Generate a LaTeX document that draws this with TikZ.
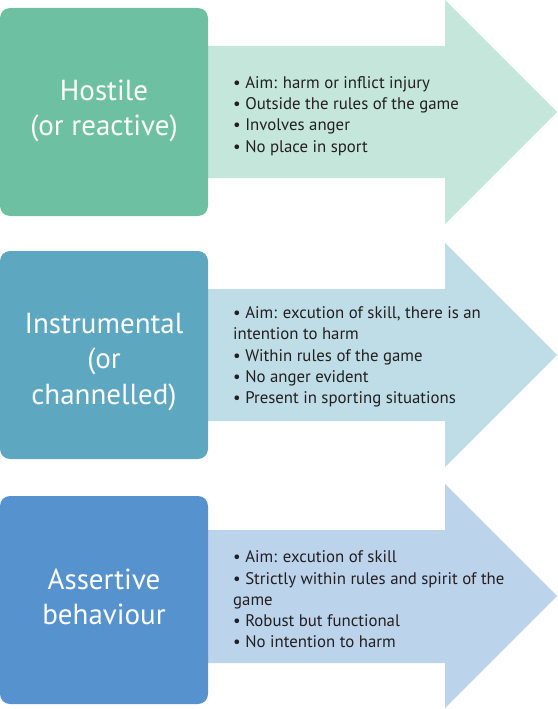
\documentclass[tikz,border=0pt]{standalone}
\usepackage{fontspec}
\setmainfont{PT Sans}
\definecolor{boxA}{HTML}{6DC0A2}
\definecolor{arrA}{HTML}{C5E6DA}
\definecolor{boxB}{HTML}{5EA7C1}
\definecolor{arrB}{HTML}{BEDDE6}
\definecolor{boxC}{HTML}{5592CE}
\definecolor{arrC}{HTML}{BCD3EC}
\definecolor{txt}{HTML}{231F20}
\tikzset{
  catbox/.style={rounded corners=10pt, minimum width=208pt, minimum height=208pt, inner sep=0pt, draw=none},
  title/.style={text=white, align=center, inner sep=0pt, font=\fontsize{29}{35.5}\selectfont},
  bullets/.style={text=txt, align=left, anchor=west, inner sep=0pt, font=\fontsize{16.8}{21.3}\selectfont},
}
\begin{document}
\begin{tikzpicture}[x=1pt,y=-1pt]
\useasboundingbox (0,0) rectangle (557,709);
% arrows
\fill[arrA] (200,46) -- (445,46) -- (445,0) -- (557,112) -- (445,224) -- (445,178) -- (200,178) -- cycle;
\fill[arrB] (200,289) -- (445,289) -- (445,243) -- (557,355) -- (445,467) -- (445,421) -- (200,421) -- cycle;
\fill[arrC] (200,530) -- (445,530) -- (445,484) -- (557,596) -- (445,708) -- (445,663) -- (200,663) -- cycle;
% boxes
\node[catbox, fill=boxA] (b1) at (104,112) {};
\node[catbox, fill=boxB] (b2) at (104,355) {};
\node[catbox, fill=boxC] (b3) at (104,600) {};
% titles
\node[title] (t1) at (104,111) {Hostile\\(or reactive)};
\node[title] (t2) at (104,362) {Instrumental\\(or\\channelled)};
\node[title] (t3) at (104,597) {Assertive\\behaviour};
% bullet text
\node[bullets] (l1) at (233,116) {• Aim: harm or inflict injury\\• Outside the rules of the game\\• Involves anger\\• No place in sport};
\node[bullets] (l2) at (233,357) {• Aim: excution of skill, there is an\\intention to harm\\• Within rules of the game\\• No anger evident\\• Present in sporting situations};
\node[bullets] (l3) at (233,599.5) {• Aim: excution of skill\\• Strictly within rules and spirit of the\\game\\• Robust but functional\\• No intention to harm};
\end{tikzpicture}
\end{document}
